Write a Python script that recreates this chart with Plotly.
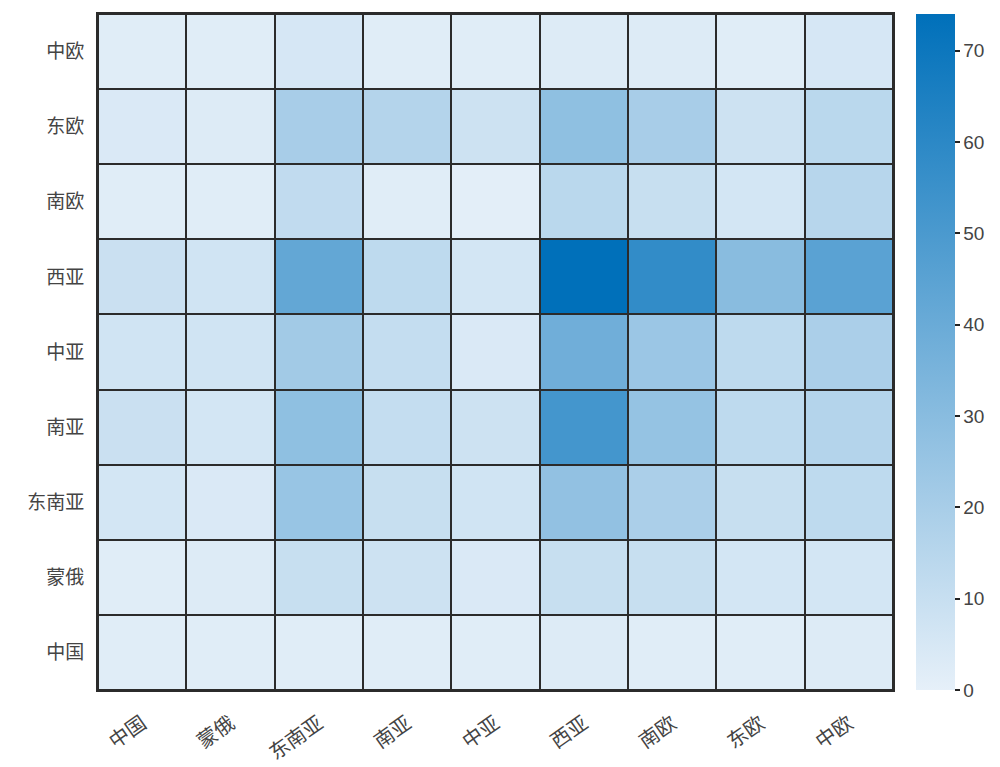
import plotly.graph_objects as go

cols = ["中国", "蒙俄", "东南亚", "南亚", "中亚", "西亚", "南欧", "东欧", "中欧"]
rows = ["中国", "蒙俄", "东南亚", "南亚", "中亚", "西亚", "南欧", "东欧", "中欧"]  # bottom to top

row_中国 = [2, 2, 2, 2, 2, 3, 2, 2, 3]
row_蒙俄 = [2, 3, 10, 8, 4, 10, 10, 6, 6]
row_东南亚 = [6, 4, 25, 10, 7, 27, 19, 10, 13]
row_南亚 = [9, 6, 28, 11, 8, 52, 26, 13, 16]
row_中亚 = [7, 7, 22, 11, 4, 38, 24, 13, 19]
row_西亚 = [9, 7, 42, 13, 6, 74, 58, 30, 45]
row_南欧 = [2, 2, 12, 2, 1, 14, 10, 6, 15]
row_东欧 = [4, 3, 20, 16, 8, 28, 20, 8, 14]
row_中欧 = [2, 2, 5, 2, 2, 3, 3, 2, 5]

z = [row_中国, row_蒙俄, row_东南亚, row_南亚, row_中亚, row_西亚, row_南欧, row_东欧, row_中欧]
tickvals_cb = [0, 10, 20, 30, 40, 50, 60, 70]

font_cjk = "Noto Sans CJK SC, Noto Sans, sans-serif"

fig = go.Figure(go.Heatmap(
    z=z, x=cols, y=rows,
    zmin=0, zmax=74,
    colorscale=[[0, "#E6F0F9"], [1, "#0070BA"]],
    xgap=2, ygap=2,
    colorbar=dict(
        thickness=39, len=1.0, lenmode="fraction", ypad=0, xpad=0,
        x=1.029, xanchor="left", y=0.5, yanchor="middle",
        outlinewidth=0,
        tickvals=tickvals_cb,
        ticks="outside", ticklen=5, tickcolor="#222", tickwidth=2,
        tickfont=dict(family="Liberation Sans, Arial, sans-serif", size=19, color="#444"),
    ),
))

fig.update_layout(
    width=1000, height=767,
    margin=dict(l=90, r=115, t=6, b=85, autoexpand=False),
    paper_bgcolor="white",
    plot_bgcolor="#2b2b2b",
    xaxis=dict(tickangle=-35, tickfont=dict(family=font_cjk, size=20, color="#444"),
               showline=True, linecolor="#2b2b2b", linewidth=2, mirror=True,
               ticks="", showgrid=False, zeroline=False, automargin=False,
               ticklabelstandoff=12),
    yaxis=dict(tickfont=dict(family=font_cjk, size=19, color="#444"),
               showline=True, linecolor="#2b2b2b", linewidth=2, mirror=True,
               ticks="", showgrid=False, zeroline=False, automargin=False,
               ticklabelstandoff=8),
)

fig.write_html("out.html")
